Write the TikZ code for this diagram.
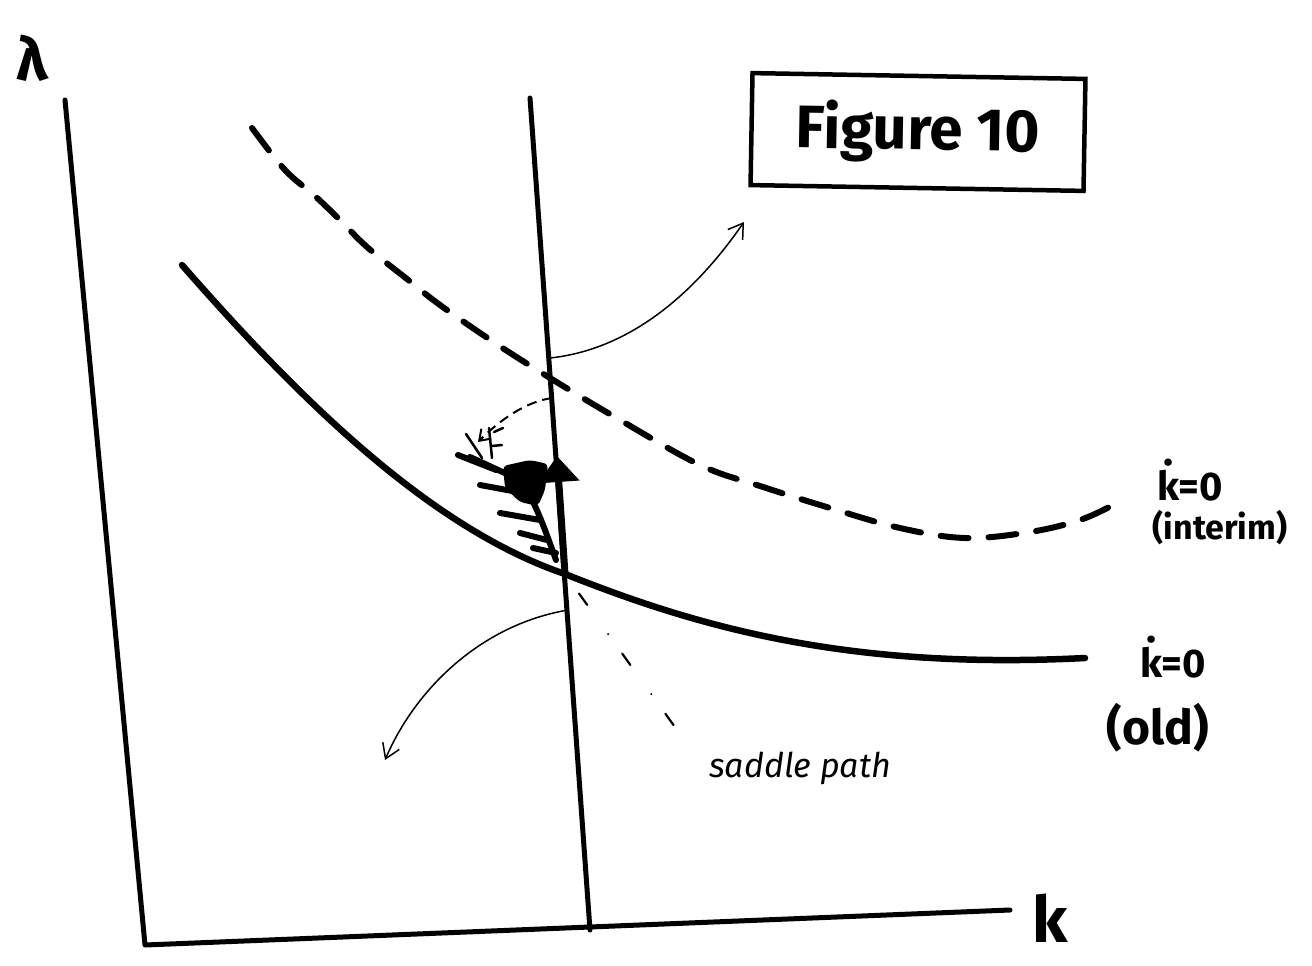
\documentclass[tikz,border=0pt]{standalone}
\usepackage{fontspec}
\setmainfont{Fira Sans}
\usetikzlibrary{arrows.meta}
\begin{document}
\begin{tikzpicture}[x=1pt,y=-1pt,
  axis/.style={line width=5pt, line cap=round, line join=round},
  curve/.style={line width=6.5pt, line cap=round},
  dcurve/.style={line width=6pt, dash pattern=on 28pt off 20pt, line cap=round},
  thinarrow/.style={line width=1.5pt, -{Straight Barb[length=14pt,width=18pt,line width=1.5pt]}},
  stroke/.style={line width=6pt, line cap=round},
  barb/.style={line width=2.5pt, line cap=round},
  lbl/.style={font=\bfseries\fontsize{40}{40}\selectfont, inner sep=0pt, align=center}]
\useasboundingbox (0,0) rectangle (1312,966);

% axes
\coordinate (ytop) at (65,100);
\coordinate (origin) at (145,945);
\coordinate (xend) at (1010,910);
\draw[axis] (ytop) -- (origin) -- (xend);
\node[lbl, font=\bfseries\fontsize{60}{60}\selectfont] (lam) at (32,58) {λ};
\node[lbl, font=\bfseries\fontsize{64}{64}\selectfont] (kl) at (1050,918) {k};

% vertical line
\coordinate (vtop) at (530,98);
\coordinate (vbot) at (590,930);
\draw[axis] (vtop) -- (vbot);

% old kdot=0 curve
\coordinate (eq) at (565,574);
\draw[curve] (182,265) .. controls (300,400) and (430,528) .. (eq)
             .. controls (700,628) and (850,670) .. (1085,658);

% interim kdot=0 curve (dashed)
\draw[dcurve] plot[smooth, tension=0.6] coordinates {(252,128) (285,170) (315,196) (340,220) (367,247) (407,279) (440,305) (495,343) (550,378) (620,420) (700,465) (760,486) (830,508) (900,528) (965,538) (1030,532) (1080,520) (1113,505)};

% labels
\node[lbl] (kint) at (1190,480) {k̇=0};
\node[lbl, font=\bfseries\fontsize{34}{34}\selectfont] (intl) at (1220,528) {(interim)};
\node[lbl] (kold) at (1173,657) {k̇=0};
\node[lbl, font=\bfseries\fontsize{48}{48}\selectfont] (oldl) at (1158,728) {(old)};

% figure box
\node[draw, line width=4.5pt, minimum width=333pt, minimum height=112pt, rotate=-1,
      font=\bfseries\fontsize{60}{60}\selectfont] (fig) at (918,132) {Figure 10};

% curved arrows
\coordinate (a1s) at (550,358);
\coordinate (a1e) at (744,222);
\draw[thinarrow] (a1s) .. controls (625,350) and (690,300) .. (a1e);
\coordinate (a2s) at (568,610);
\coordinate (a2e) at (385,760);
\draw[thinarrow] (a2s) .. controls (480,625) and (415,690) .. (a2e);

% small dashed arrow
\coordinate (d1s) at (552,398);
\coordinate (d1e) at (478,442);
\draw[line width=2pt, dash pattern=on 10pt off 6pt,
      -{Straight Barb[length=10pt,width=14pt,line width=2pt]}] (d1s) .. controls (525,402) and (500,420) .. (d1e);

% thick up arrow along vertical line
\coordinate (up) at (557,456);
\draw[line width=7pt, -{Triangle[length=26pt,width=40pt]}] (eq) -- (up);

% trajectory scribble
\coordinate (t0) at (556,560);
\coordinate (t1) at (470,457);
\draw[stroke] (t0) .. controls (545,530) and (535,500) .. (520,480) -- (t1);
\fill[rounded corners=4pt] (503,466) -- (530,460) -- (548,464) -- (545,490) -- (538,506) -- (520,502) -- (505,488) -- cycle;
\draw[stroke] (458,455) -- (496,470);
\draw[stroke] (480,485) -- (523,493);
\draw[stroke] (500,513) -- (540,520);
\draw[stroke] (520,533) -- (547,540);
\draw[stroke] (533,548) -- (556,553);
\draw[barb] (466,434) -- (482,458);
\draw[barb] (489,428) -- (492,458);
\draw[barb] (494,432) -- (503,428);
\draw[barb] (492,446) -- (502,445);

% saddle path
\coordinate (sp) at (690,748);
\draw[line width=2.2pt, dash pattern=on 0pt off 24pt on 14pt off 36pt, line cap=round] (eq) -- (sp);
\node[font=\fontsize{34}{34}\selectfont\itshape, inner sep=0pt] (sptxt) at (800,768) {saddle path};

\end{tikzpicture}
\end{document}
